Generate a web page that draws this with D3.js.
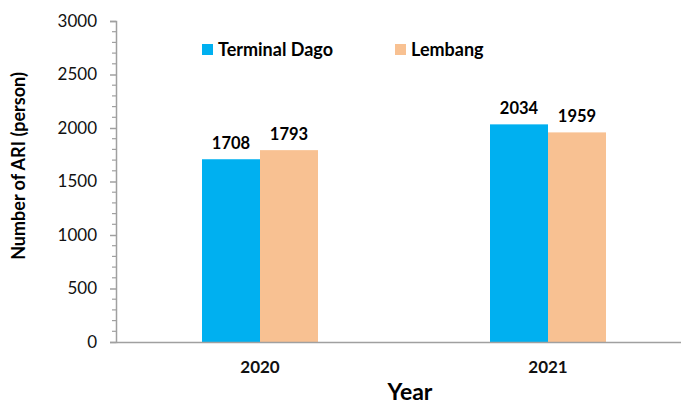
<!DOCTYPE html>
<html><head><meta charset="utf-8">
<script src="https://cdn.jsdelivr.net/npm/d3@7"></script>
<style>body{margin:0;background:#fff}svg{display:block}</style>
</head><body><svg id="c" width="681" height="405"></svg>
<script>
const years = ["2020", "2021"];
const seriesNames = ["Terminal Dago", "Lembang"];
const terminalDago = [1708, 2034];
const lembang = [1793, 1959];
const yTicks = [0, 500, 1000, 1500, 2000, 2500, 3000];
const colors = ["#00B0F0", "#F8C192"];

const svg = d3.select("#c");
const font = "Lato, 'Open Sans', sans-serif";
const x = d3.scaleBand().domain(years).range([116, 692]).paddingInner(0).paddingOuter(0);
const y = d3.scaleLinear().domain([0, 3000]).range([342, 21]);
const x1 = d3.scaleBand().domain(seriesNames).range([0, 116]);
const values = [terminalDago, lembang];

// bars
seriesNames.forEach((s, si) => {
  svg.append("g").selectAll("rect").data(years).join("rect")
    .attr("x", d => x(d) + x.bandwidth()/2 - 58 + x1(s))
    .attr("width", x1.bandwidth())
    .attr("y", (d, i) => y(values[si][i]))
    .attr("height", (d, i) => y(0) - y(values[si][i]))
    .attr("fill", colors[si]);
  svg.append("g").selectAll("text").data(years).join("text")
    .attr("x", d => x(d) + x.bandwidth()/2 - 58 + x1(s) + x1.bandwidth()/2)
    .attr("y", (d, i) => y(values[si][i]) - 10)
    .attr("text-anchor", "middle")
    .attr("font-family", font).attr("font-weight", "bold").attr("font-size", 16.5)
    .text((d, i) => values[si][i]);
});

// y axis
const ya = svg.append("g").attr("transform", "translate(116,0)")
  .call(d3.axisLeft(y).tickValues(yTicks).tickFormat(d3.format("d")).tickSize(6).tickPadding(13));
ya.select(".domain").attr("stroke", "#A0A0A0").attr("stroke-width", 1.5);
ya.selectAll(".tick line").attr("stroke", "#A0A0A0").attr("stroke-width", 1.5);
ya.selectAll("text").attr("font-family", font).attr("font-size", 17).attr("fill", "#111");
// minor ticks
svg.append("g").selectAll("line").data(d3.range(0, 3001, 100).filter(v => v % 500 !== 0)).join("line")
  .attr("x1", 112).attr("x2", 116).attr("y1", d => y(d)).attr("y2", d => y(d))
  .attr("stroke", "#A0A0A0").attr("stroke-width", 1.2);

// x axis
const xa = svg.append("g").attr("transform", "translate(0,342)")
  .call(d3.axisBottom(x).tickSize(0).tickPadding(19));
xa.select(".domain").attr("stroke", "#A0A0A0").attr("stroke-width", 1.5);
xa.selectAll("text").attr("font-family", font).attr("font-weight", "bold").attr("font-size", 17).attr("fill", "#111");

// titles
svg.append("text").attr("x", 410).attr("y", 400).attr("text-anchor", "middle")
  .attr("font-family", font).attr("font-weight", "bold").attr("font-size", 23).text("Year");
svg.append("text").attr("transform", "translate(25,166) rotate(-90)").attr("text-anchor", "middle")
  .attr("font-family", font).attr("font-weight", "bold").attr("font-size", 18).text("Number of ARI (person)");

// legend
const legX = [202, 395];
seriesNames.forEach((s, i) => {
  svg.append("rect").attr("x", legX[i]).attr("y", 44).attr("width", 11).attr("height", 11).attr("fill", colors[i]);
  svg.append("text").attr("x", legX[i] + 16).attr("y", 56)
    .attr("font-family", font).attr("font-weight", "bold").attr("font-size", 18).text(s);
});
</script></body></html>
